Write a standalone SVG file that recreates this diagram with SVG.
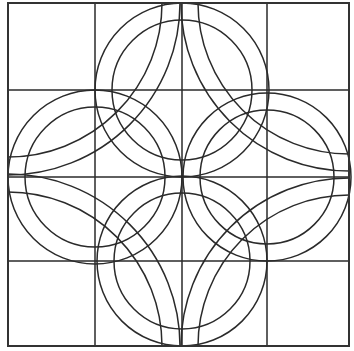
<svg xmlns="http://www.w3.org/2000/svg" width="354" height="351" viewBox="0 0 354 351">
<style>
.ln{fill:none;stroke:#2a2a2a;stroke-width:1.5}
.bd{fill:none;stroke:#333;stroke-width:2}
</style>
<defs>
<clipPath id="sq"><rect x="8" y="3" width="341" height="343"/></clipPath>
</defs>
<rect width="354" height="351" fill="#fff"/>
<g id="grid" class="ln">
<line x1="95" y1="3" x2="95" y2="346"/>
<line x1="182" y1="3" x2="182" y2="346"/>
<line x1="267" y1="3" x2="267" y2="346"/>
<line x1="8" y1="90" x2="349" y2="90"/>
<line x1="8" y1="177" x2="349" y2="177"/>
<line x1="8" y1="261" x2="349" y2="261"/>
</g>
<g id="rings" class="ln">
<circle cx="182" cy="90" r="87"/>
<circle cx="182" cy="90" r="70"/>
<circle cx="95" cy="177" r="87"/>
<circle cx="95" cy="177" r="70"/>
<circle cx="267" cy="177" r="84"/>
<circle cx="267" cy="177" r="67"/>
<circle cx="182" cy="261" r="85"/>
<circle cx="182" cy="261" r="68"/>
</g>
<g id="corners" class="ln" clip-path="url(#sq)">
<circle cx="8" cy="3" r="172"/>
<circle cx="8" cy="3" r="154"/>
<circle cx="349" cy="3" r="168"/>
<circle cx="349" cy="3" r="151"/>
<circle cx="8" cy="346" r="172"/>
<circle cx="8" cy="346" r="154"/>
<circle cx="349" cy="346" r="168"/>
<circle cx="349" cy="346" r="151"/>
</g>
<rect id="border" class="bd" x="8" y="3" width="341" height="343"/>
</svg>
